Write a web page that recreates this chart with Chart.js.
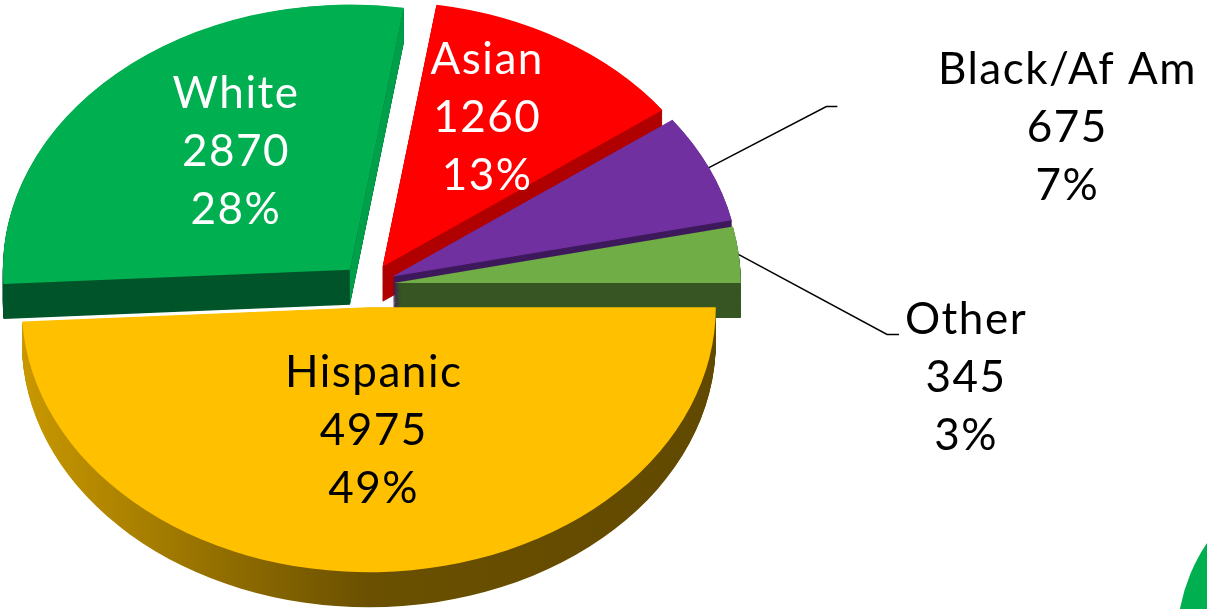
<!DOCTYPE html>
<html>
<head>
<meta charset="utf-8">
<script src="https://cdn.jsdelivr.net/npm/chart.js@4.4.0/dist/chart.umd.min.js"></script>
<style>
  html, body { margin: 0; padding: 0; background: #fff; overflow: hidden; }
  #wrap { position: relative; width: 1207px; height: 609px; overflow: hidden; }
  #pie { position: absolute; left: 0; top: 0; }
  .blob { position: absolute; left: 1177px; top: 466px; width: 350px; height: 350px; border-radius: 50%; background: #00B050; }
</style>
</head>
<body>
<div id="wrap">
  <canvas id="pie" width="1207" height="609"></canvas>
  <div class="blob"></div>
</div>
<script>
const groups = ['Hispanic', 'White', 'Asian', 'Black/Af Am', 'Other'];
const counts = [4975, 2870, 1260, 675, 345];
const shares = ['49%', '28%', '13%', '7%', '3%'];

const topColors = ['#FFC000', '#00B050', '#FF0000', '#7030A0', '#70AD47'];
const sideColors = [null, '#00552A', '#B00000', '#3E1A5C', '#375623'];
const endFaceColors = [null, '#00A04B', null, null, null];
const textColors = ['#000', '#fff', '#fff', '#000', '#000'];
// how far each slice is pulled out from the middle, px before tilting
const explode = [29, 27, 28, 27, 26];

// where each label sits: [distance as share of radius, turn from mid angle in degrees]
const labelSpots = [[0.52, 0], [0.51, 2], [0.59, -0.6], [2.01, 9.6], [1.70, 20.2]];
// leader lines for the outside labels: elbow and end, relative to the label
const leaders = [null, null, null, [[-241, -35], [-230, -35]], [[-79, -58], [-67, -58]]];

const pieCenter = { x: 368, y: 285 };
const pieRadius = 347;
const squash = 0.764;   // tilt of the pie
const depth = 35;       // thickness in screen px
const lineGap = 58;

function applyTilt(ctx, arc) {
  ctx.translate(pieCenter.x, pieCenter.y);
  ctx.scale(1, squash);
  ctx.translate(-arc.x, -arc.y);
}

function toScreen(arc, px, py) {
  return { x: pieCenter.x + (px - arc.x), y: pieCenter.y + (py - arc.y) * squash };
}

function arcShift(arc, i) {
  const mid = (arc.startAngle + arc.endAngle) / 2;
  return { dx: Math.cos(mid) * explode[i], dy: Math.sin(mid) * explode[i], mid: mid };
}

function drawLabels(chart) {
  const ctx = chart.ctx;
  const arcs = chart.getDatasetMeta(0).data;
  ctx.save();
  ctx.font = '44px Lato';
  ctx.letterSpacing = '1.5px';
  ctx.textAlign = 'center';
  ctx.textBaseline = 'alphabetic';
  arcs.forEach((arc, i) => {
    const s = arcShift(arc, i);
    const [f, turn] = labelSpots[i];
    const a = s.mid + turn * Math.PI / 180;
    const r = f * arc.outerRadius;
    const ox = arc.x + s.dx, oy = arc.y + s.dy;
    const p = toScreen(arc, ox + Math.cos(a) * r, oy + Math.sin(a) * r);
    const lines = [groups[i], String(counts[i]), shares[i]];
    ctx.fillStyle = textColors[i];
    lines.forEach((t, j) => ctx.fillText(t, p.x, p.y + (j - 1) * lineGap));

    if (leaders[i]) {
      const start = toScreen(arc, ox + Math.cos(s.mid) * arc.outerRadius, oy + Math.sin(s.mid) * arc.outerRadius);
      ctx.strokeStyle = '#000';
      ctx.lineWidth = 1.5;
      ctx.beginPath();
      ctx.moveTo(start.x, start.y);
      ctx.lineTo(p.x + leaders[i][0][0], p.y + leaders[i][0][1]);
      ctx.lineTo(p.x + leaders[i][1][0], p.y + leaders[i][1][1]);
      ctx.stroke();
    }
  });
  ctx.restore();
}

const sidePlugin = {
  id: 'sides',
  beforeDatasetsDraw(chart) {
    const ctx = chart.ctx;
    const arcs = chart.getDatasetMeta(0).data;
    ctx.save();
    applyTilt(ctx, arcs[0]);
    const left = arcs[0].x - pieRadius, right = arcs[0].x + pieRadius;
    const gold = ctx.createLinearGradient(left, 0, right, 0);
    gold.addColorStop(0, '#C99800');
    gold.addColorStop(0.5, '#6A5000');
    gold.addColorStop(1, '#614900');
    const h = depth / squash;
    arcs.forEach((arc, i) => {
      const s = arcShift(arc, i);
      const cx = arc.x + s.dx, cy = arc.y + s.dy;
      ctx.fillStyle = i === 0 ? gold : sideColors[i];
      for (let d = h; d > 0; d -= 1) {
        ctx.beginPath();
        ctx.moveTo(cx, cy + d);
        ctx.arc(cx, cy + d, arc.outerRadius, arc.startAngle, arc.endAngle);
        ctx.closePath();
        ctx.fill();
      }
      if (endFaceColors[i]) {
        // the cut face along the slice's closing edge catches more light
        const ex = cx + Math.cos(arc.endAngle) * arc.outerRadius;
        const ey = cy + Math.sin(arc.endAngle) * arc.outerRadius;
        ctx.fillStyle = endFaceColors[i];
        ctx.beginPath();
        ctx.moveTo(cx, cy);
        ctx.lineTo(ex, ey);
        ctx.lineTo(ex, ey + h);
        ctx.lineTo(cx, cy + h);
        ctx.closePath();
        ctx.fill();
      }
    });
  },
  beforeDatasetDraw(chart, args) {
    // slice tops: each arc drawn by Chart.js, pulled out by its own amount
    const ctx = chart.ctx;
    args.meta.data.forEach((arc, i) => {
      const s = arcShift(arc, i);
      ctx.save();
      ctx.translate(s.dx, s.dy);
      arc.draw(ctx);
      ctx.restore();
    });
    return false;
  },
  afterDatasetsDraw(chart) {
    chart.ctx.restore();
    drawLabels(chart);
  }
};

new Chart(document.getElementById('pie'), {
  type: 'pie',
  data: {
    labels: groups,
    datasets: [{
      data: counts,
      backgroundColor: topColors,
      borderWidth: 0,
      clip: false
    }]
  },
  options: {
    responsive: false,
    animation: false,
    rotation: 90,
    radius: pieRadius,
    events: [],
    plugins: {
      legend: { display: false },
      tooltip: { enabled: false }
    }
  },
  plugins: [sidePlugin]
});
</script>
</body>
</html>
